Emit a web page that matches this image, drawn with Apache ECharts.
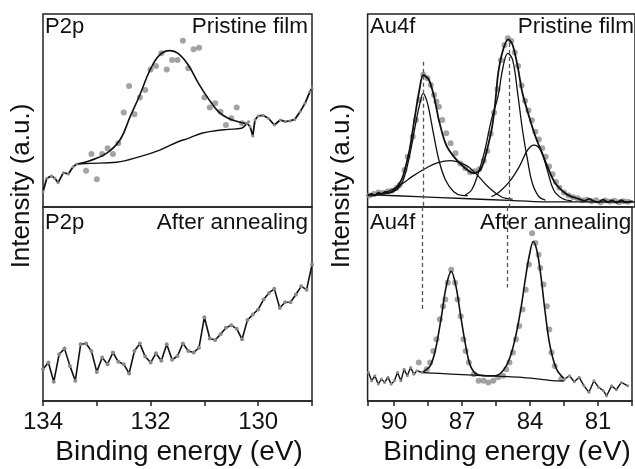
<!DOCTYPE html>
<html>
<head>
<meta charset="utf-8">
<script src="https://cdn.jsdelivr.net/npm/echarts@6/dist/echarts.min.js"></script>
<style>
  html, body { margin: 0; padding: 0; background: #fff; }
  #chart { width: 635px; height: 469px; }
</style>
</head>
<body>
<div id="chart"></div>
<script>
// ---- P2p, pristine film (x: binding energy eV, y: intensity a.u.) ----
var p2pRawLeft = [[134.0,7.9],[133.93,14.9],[133.84,16.1],[133.78,14.9],[133.72,12.6],[133.62,17.8],[133.53,17.1],[133.44,20.9],[133.37,22.3]];
var p2pRawRight = [[130.21,43.4],[130.18,44.2],[130.15,41.6],[130.1,36.8],[130.06,45.1],[130.0,47.2],[129.91,47.5],[129.81,46.0],[129.7,42.5],[129.59,45.1],[129.5,44.2],[129.41,44.6],[129.32,45.4],[129.22,49.4],[129.13,53.7],[129.04,59.7],[129.0,61.5]];
var p2pFit = [[133.37,22.3],[133.13,24.0],[132.82,27.8],[132.57,34.7],[132.38,46.8],[132.2,58.0],[132.01,71.0],[131.83,78.8],[131.64,81.0],[131.49,79.6],[131.3,73.6],[131.11,64.1],[130.93,56.3],[130.74,49.4],[130.56,46.0],[130.31,43.7],[130.21,43.4]];
var p2pBg = [[133.37,22.3],[133.13,22.6],[132.63,23.2],[132.2,26.1],[131.83,29.5],[131.49,33.8],[131.3,35.6],[131.05,38.2],[130.8,39.5],[130.56,40.2],[130.31,40.8],[130.21,43.4]];
var p2pDots = [[133.2,18.8],[133.1,27.5],[133.0,14.4],[132.9,27.5],[132.8,30.4],[132.7,27.5],[132.6,33.0],[132.5,48.9],[132.4,62.7],[132.3,48.0],[132.2,56.8],[132.1,60.6],[132.0,71.3],[131.9,73.1],[131.8,79.6],[131.7,71.3],[131.6,76.2],[131.5,76.2],[131.4,86.2],[131.3,71.9],[131.2,81.7],[131.1,82.5],[131.0,56.8],[130.9,51.5],[130.8,53.7],[130.7,49.4],[130.6,42.5],[130.5,46.0],[130.4,51.6],[130.3,43.4]];

// ---- P2p, after annealing ----
var p2pAnneal = [[134.0,16.4],[133.9,19.8],[133.8,9.9],[133.7,24.1],[133.6,27.0],[133.5,18.1],[133.4,10.4],[133.3,29.2],[133.2,29.6],[133.1,25.8],[133.0,15.0],[132.9,22.4],[132.8,19.0],[132.7,25.0],[132.6,20.2],[132.5,19.0],[132.4,14.2],[132.3,25.8],[132.2,29.6],[132.1,22.9],[132.0,19.8],[131.9,24.6],[131.8,20.7],[131.7,29.2],[131.6,21.2],[131.5,23.2],[131.4,29.7],[131.3,25.8],[131.2,25.0],[131.1,27.5],[131.0,43.2],[130.9,32.2],[130.8,31.4],[130.7,34.4],[130.6,37.8],[130.5,39.0],[130.4,37.3],[130.3,31.8],[130.2,41.7],[130.1,44.6],[130.0,47.2],[129.9,52.3],[129.8,55.7],[129.7,57.8],[129.6,48.0],[129.5,50.9],[129.4,50.9],[129.3,54.9],[129.2,59.1],[129.1,57.4],[129.0,70.3]];

// ---- Au4f, pristine film ----
var auEnvelope = [[91.15,5.8],[91.0,6.8],[90.85,6.0],[90.7,7.4],[90.55,6.8],[90.4,7.8],[90.2,7.4],[90.05,8.5],[89.9,10.2],[89.75,12.8],[89.63,15.7],[89.34,29.5],[89.13,45.1],[88.91,60.6],[88.74,68.4],[88.49,65.8],[88.27,57.2],[88.06,45.1],[87.77,33.0],[87.41,26.1],[86.91,20.1],[86.55,17.5],[86.2,20.1],[85.76,40.0],[85.6,54.0],[85.47,69.3],[85.26,81.3],[85.04,86.9],[84.84,83.9],[84.62,72.7],[84.41,58.9],[84.12,46.8],[83.84,36.4],[83.55,27.8],[83.26,19.2],[82.98,12.3],[82.55,7.1],[82.3,5.5],[82.1,4.8],[81.9,4.0],[81.7,3.2],[81.5,4.2],[81.3,3.0],[81.1,2.4],[80.9,3.8],[80.7,2.6],[80.5,3.4],[80.3,2.2],[80.1,3.5],[79.9,2.4],[79.6,3.0]];
var auPeakB = [[90.8,6.6],[90.3,7.2],[89.9,9.0],[89.63,13.5],[89.34,26.5],[89.06,44.0],[88.9,53.0],[88.74,58.9],[88.6,55.5],[88.49,50.3],[88.27,36.4],[88.06,24.4],[87.77,14.0],[87.41,7.9],[87.06,6.0],[86.8,5.9]];
var auPeakD = [[91.06,5.6],[90.3,8.0],[89.73,11.5],[89.2,16.0],[88.63,20.1],[88.1,23.0],[87.55,24.0],[87.1,22.8],[86.77,20.9],[86.3,15.5],[85.91,10.5],[85.34,5.3],[84.84,4.1]];
var auPeakA = [[86.91,6.2],[86.63,8.8],[86.34,17.5],[86.05,29.5],[85.77,45.1],[85.48,57.2],[85.27,71.9],[85.05,79.6],[84.84,76.2],[84.62,58.9],[84.41,39.9],[84.19,24.4],[83.98,12.3],[83.69,5.3],[83.41,3.6]];
var auPeakC = [[85.77,5.3],[85.41,7.9],[84.98,13.1],[84.55,20.9],[84.19,29.5],[83.91,32.1],[83.62,29.5],[83.33,19.2],[83.05,8.8],[82.69,4.5],[82.26,3.1]];
var auBg = [[91.15,6.4],[89.0,5.4],[87.0,4.4],[85.0,3.4],[83.5,2.7],[79.5,2.6]];
var auDots = [[91.1,6.0],[90.9,6.8],[90.7,7.5],[90.5,7.2],[90.3,8.0],[90.1,8.6],[89.9,10.0],[89.77,11.4],[89.56,19.2],[89.42,26.1],[89.2,36.4],[89.06,45.1],[88.91,55.4],[88.74,68.5],[88.56,66.7],[88.41,63.2],[88.27,58.0],[88.17,54.6],[88.06,52.0],[87.91,45.1],[87.74,38.2],[87.55,33.0],[87.34,27.8],[87.12,22.6],[86.91,20.1],[86.7,18.0],[86.5,18.5],[86.3,19.5],[86.1,24.0],[85.95,29.0],[85.8,38],[85.65,49],[85.5,61],[85.35,76],[85.2,84],[85.05,87.5],[84.9,86],[84.75,80],[84.6,73],[84.45,63],[84.3,55],[84.15,50],[84.0,45],[83.85,39],[83.7,35],[83.55,30.5],[83.4,26],[83.25,21],[83.1,17],[82.95,13],[82.8,10],[82.6,7.5],[82.4,6.0],[82.2,5.0],[82.0,4.5],[81.8,3.5],[81.6,3.8],[81.4,3.0],[81.2,3.5],[81.0,2.5],[80.8,3.4],[80.6,2.8],[80.4,3.2],[80.2,2.5],[80.0,3.0],[79.8,2.7]];

// ---- Au4f, after annealing ----
var auAnnNoiseLeft = [[91.13,14.7],[90.99,10.4],[90.85,13.0],[90.70,8.7],[90.56,11.3],[90.42,9.6],[90.27,12.2],[90.13,8.7],[89.99,10.4],[89.85,14.7],[89.70,10.4],[89.56,16.4],[89.42,13.0],[89.27,17.3],[89.13,13.8],[88.99,15.6],[88.77,14.7]];
var auAnnNoiseRight = [[82.48,11.3],[82.26,13.0],[82.05,9.9],[81.83,12.2],[81.62,7.8],[81.40,4.5],[81.18,10.4],[80.97,7.0],[80.76,5.3],[80.62,2.7],[80.40,7.8],[80.19,5.8],[79.97,9.6],[79.69,7.8]];
var auAnnFit = [[88.77,14.7],[88.41,18.1],[88.17,26.7],[87.91,43.7],[87.70,59.1],[87.48,66.8],[87.27,59.1],[87.06,43.7],[86.84,28.4],[86.63,18.1],[86.34,13.8],[85.77,13.0],[85.55,13.0],[85.05,18.1],[84.70,30.1],[84.41,47.2],[84.19,64.3],[84.01,76.3],[83.86,82.2],[83.69,77.1],[83.52,64.3],[83.33,45.5],[83.12,28.4],[82.83,16.4],[82.48,11.3]];
var auAnnBg = [[88.77,14.7],[88.0,14.2],[87.0,13.6],[86.0,13.0],[85.0,12.6],[84.5,12.3],[83.5,11.2],[82.83,10.4],[82.48,10.4]];
var auAnnDots = [[88.91,19.8],[88.56,16.4],[88.41,19.8],[88.27,25.8],[88.13,31.8],[87.98,42.1],[87.84,48.9],[87.74,52.3],[87.63,60.9],[87.48,67.7],[87.31,60.9],[87.2,52.3],[87.06,43.7],[86.94,31.8],[86.84,25.8],[86.7,19.8],[86.48,13.8],[86.27,10.4],[86.05,10.4],[85.84,9.6],[85.62,10.4],[85.41,12.2],[85.19,13.0],[85.05,16.4],[84.91,19.8],[84.76,25.0],[84.62,31.8],[84.48,38.6],[84.33,47.2],[84.19,57.4],[84.05,70.3],[83.91,86.5],[83.76,81.4],[83.62,75.4],[83.55,68.6],[83.41,60.0],[83.26,48.9],[83.15,36.9],[83.05,25.0],[82.91,18.1],[82.62,11.3]];

// dashed reference lines (eV) and their extents in each subplot
var dashX = [88.75, 85.0];
var dashTop = [[75.3, 0], [85, 0]];
var dashBottom = [[100, 46.3], [100, 58.5]];

var leftTicks = [134, 132, 130];
var rightTicks = [90, 87, 84, 81];

var FONT = "'Liberation Sans', Arial, sans-serif";
var chart = echarts.init(document.getElementById('chart'));

function gridBox(left, top, width, height) {
  return { left: left, top: top, width: width, height: height, show: true,
    borderColor: '#222', borderWidth: 1.5, backgroundColor: 'transparent' };
}
function xAx(gi, min, max, interval, ticks, showAxis) {
  return {
    type: 'value', gridIndex: gi, inverse: true, min: min, max: max, interval: interval,
    show: showAxis,
    axisLine: { show: true, lineStyle: { color: '#222', width: 1.5 } },
    axisTick: { show: true, length: 5, lineStyle: { color: '#222', width: 1.5 } },
    axisLabel: { fontSize: 24, color: '#111', fontFamily: FONT, margin: 9,
      formatter: function (v) {
        for (var i = 0; i < ticks.length; i++) { if (Math.abs(v - ticks[i]) < 1e-6) return String(ticks[i]); }
        return '';
      } },
    splitLine: { show: false }
  };
}
function yAx(gi) {
  return { type: 'value', gridIndex: gi, min: 0, max: 100, show: false };
}
function line(gi, data, width, smooth, dots) {
  return {
    type: 'line', xAxisIndex: gi, yAxisIndex: gi, data: data, smooth: smooth,
    showSymbol: !!dots, symbol: 'circle', symbolSize: dots || 0,
    itemStyle: { color: '#8a8a8a' },
    lineStyle: { color: '#111', width: width }, z: 3, silent: true
  };
}
function dots(gi, data) {
  return {
    type: 'scatter', xAxisIndex: gi, yAxisIndex: gi, data: data, symbolSize: 6,
    itemStyle: { color: '#8c8c8c' }, z: 2, silent: true
  };
}
function dashes(gi, extents) {
  return {
    type: 'line', xAxisIndex: gi, yAxisIndex: gi, data: [], silent: true,
    markLine: {
      silent: true, symbol: ['none', 'none'], label: { show: false },
      lineStyle: { color: '#555', width: 1.3, type: [4, 3] },
      data: dashX.map(function (x, i) {
        return [{ coord: [x, extents[i][0]] }, { coord: [x, extents[i][1]] }];
      })
    }
  };
}
function label(text, x, y, align, size, rot) {
  return {
    type: 'text', x: x, y: y, rotation: rot || 0, silent: true,
    style: { text: text, font: size + 'px ' + FONT, fill: '#111',
      textAlign: align, align: align, textVerticalAlign: 'middle', verticalAlign: 'middle' }
  };
}

var option = {
  animation: false,
  backgroundColor: '#fff',
  grid: [
    gridBox(43, 14, 269, 193),
    gridBox(43, 207, 269, 194),
    gridBox(367.6, 14, 271.4, 193),
    gridBox(367.6, 207, 271.4, 194)
  ],
  xAxis: [
    xAx(0, 129, 134, 1, leftTicks, false),
    xAx(1, 129, 134, 1, leftTicks, true),
    xAx(2, 79.5, 91.17, 1.5, rightTicks, false),
    xAx(3, 79.5, 91.17, 1.5, rightTicks, true)
  ],
  yAxis: [yAx(0), yAx(1), yAx(2), yAx(3)],
  series: [
    dots(0, p2pDots),
    line(0, p2pRawLeft, 1.8, false, 3),
    line(0, p2pRawRight, 1.8, false, 3),
    line(0, p2pFit, 1.6, 0.4),
    line(0, p2pBg, 1.4, 0.4),

    line(1, p2pAnneal, 1.6, false, 4),

    dots(2, auDots),
    line(2, auEnvelope, 1.8, 0.3),
    line(2, auPeakB, 1.3, 0.4),
    line(2, auPeakD, 1.3, 0.4),
    line(2, auPeakA, 1.3, 0.4),
    line(2, auPeakC, 1.3, 0.4),
    line(2, auBg, 1.3, 0.3),
    dashes(2, dashTop),

    dots(3, auAnnDots),
    line(3, auAnnNoiseLeft, 1.4, false, 3),
    line(3, auAnnNoiseRight, 1.4, false, 3),
    line(3, auAnnFit, 1.6, 0.35),
    line(3, auAnnBg, 1.3, 0.3),
    dashes(3, dashBottom)
  ],
  graphic: [
    label('P2p', 45, 27, 'left', 22),
    label('Pristine film', 308, 27, 'right', 22.5),
    label('P2p', 45, 223, 'left', 22),
    label('After annealing', 308, 223, 'right', 22.5),
    label('Au4f', 370, 27, 'left', 22),
    label('Pristine film', 634, 27, 'right', 22.5),
    label('Au4f', 370, 223, 'left', 22),
    label('After annealing', 480, 223, 'left', 22.5),
    label('Intensity (a.u.)', 22, 186, 'center', 26, Math.PI / 2),
    label('Intensity (a.u.)', 342, 186, 'center', 26, Math.PI / 2),
    label('Binding energy (eV)', 179, 452, 'center', 28),
    label('Binding energy (eV)', 507, 452, 'center', 28)
  ]
};
chart.setOption(option);
</script>
</body>
</html>
